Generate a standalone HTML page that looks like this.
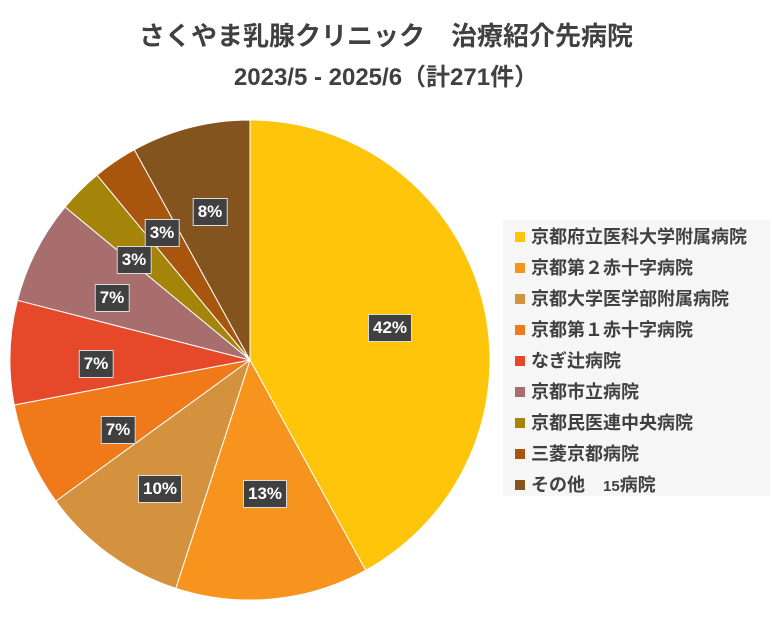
<!DOCTYPE html>
<html><head><meta charset="utf-8"><style>
body{margin:0;background:#fff;width:772px;height:621px;overflow:hidden;font-family:"Liberation Sans","Noto Sans CJK JP",sans-serif}
.t{position:absolute;left:0;width:772px;text-align:center;font-weight:bold;color:#404040;line-height:1}
.lg{position:absolute;left:503px;top:220px;width:267px;height:276px;background:#f6f6f6}
.it{position:absolute;left:12px;font-size:18px;font-weight:bold;color:#404040;white-space:nowrap;line-height:20px}
.it i{display:inline-block;width:10px;height:10px;margin-right:6px;vertical-align:1px}
.lb{position:absolute;background:#404040;color:#fff;font-weight:bold;font-size:17px;padding:3px 4px;border:1px solid #ddd;transform:translate(-50%,-50%)}
</style></head><body>
<div class="t" style="top:23px;font-size:26px">さくやま乳腺クリニック　治療紹介先病院</div>
<div class="t" style="top:66px;font-size:24px">2023/5 - 2025/6（計271件）</div>
<svg width="772" height="621" style="position:absolute;left:0;top:0">
<g stroke="#fff" stroke-width="1">
<path d="M250,360 L250,120 A240,240 0 0 1 365.6,570.3Z" fill="#FFC50A"/>
<path d="M250,360 L365.6,570.3 A240,240 0 0 1 175.8,588.3Z" fill="#F7941D"/>
<path d="M250,360 L175.8,588.3 A240,240 0 0 1 55.8,501.1Z" fill="#D4913E"/>
<path d="M250,360 L55.8,501.1 A240,240 0 0 1 14.2,405Z" fill="#F07A1A"/>
<path d="M250,360 L14.2,405 A240,240 0 0 1 17.5,300.3Z" fill="#E6482A"/>
<path d="M250,360 L17.5,300.3 A240,240 0 0 1 65.1,207Z" fill="#A86E6E"/>
<path d="M250,360 L65.1,207 A240,240 0 0 1 97,175.1Z" fill="#A4850A"/>
<path d="M250,360 L97,175.1 A240,240 0 0 1 134.4,149.7Z" fill="#A8560E"/>
<path d="M250,360 L134.4,149.7 A240,240 0 0 1 250,120Z" fill="#84541F"/>
</g></svg>
<div class="lb" style="left:390px;top:328px">42%</div>
<div class="lb" style="left:265px;top:494px">13%</div>
<div class="lb" style="left:160px;top:489px">10%</div>
<div class="lb" style="left:118px;top:430px">7%</div>
<div class="lb" style="left:96px;top:364px">7%</div>
<div class="lb" style="left:112px;top:298px">7%</div>
<div class="lb" style="left:134px;top:260px">3%</div>
<div class="lb" style="left:162px;top:233px">3%</div>
<div class="lb" style="left:210px;top:212px">8%</div>
<div class="lg">
<div class="it" style="top:7px"><i style="background:#FFC50A"></i>京都府立医科大学附属病院</div>
<div class="it" style="top:38px"><i style="background:#F7941D"></i>京都第２赤十字病院</div>
<div class="it" style="top:69px"><i style="background:#D4913E"></i>京都大学医学部附属病院</div>
<div class="it" style="top:100px"><i style="background:#F07A1A"></i>京都第１赤十字病院</div>
<div class="it" style="top:131px"><i style="background:#E6482A"></i>なぎ辻病院</div>
<div class="it" style="top:162px"><i style="background:#A86E6E"></i>京都市立病院</div>
<div class="it" style="top:193px"><i style="background:#A4850A"></i>京都民医連中央病院</div>
<div class="it" style="top:224px"><i style="background:#A8560E"></i>三菱京都病院</div>
<div class="it" style="top:255px"><i style="background:#84541F"></i>その他　<span style="font-size:15px">15</span>病院</div>
</div>
</body></html>
